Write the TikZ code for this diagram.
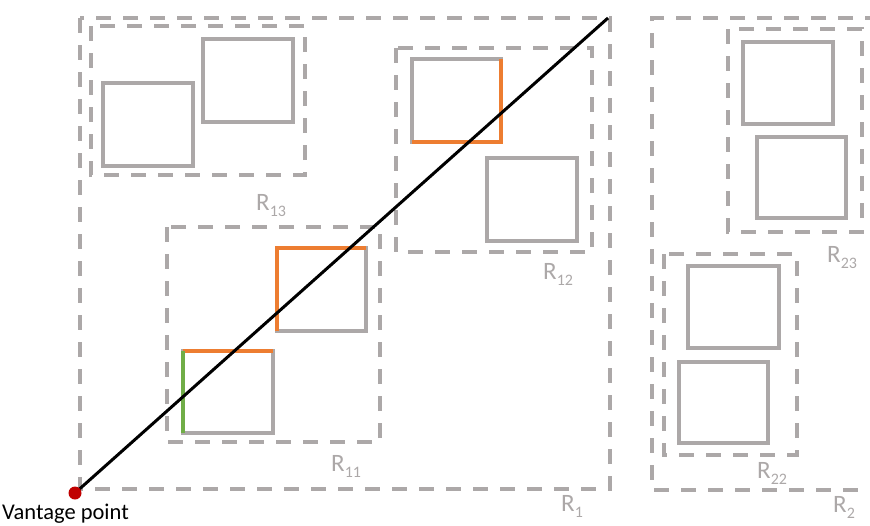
\documentclass[tikz,border=0pt]{standalone}
\usepackage{fontspec}
\setmainfont{Carlito}
\usetikzlibrary{positioning}
\definecolor{boxgray}{RGB}{172,168,168}
\definecolor{hitorange}{RGB}{237,125,49}
\definecolor{hitgreen}{RGB}{112,173,71}
\definecolor{vpred}{RGB}{192,0,0}
\newcommand{\regname}[1]{R\raisebox{-6pt}{\fontsize{16}{18}\selectfont #1}}

\begin{document}
\begin{tikzpicture}[x=1pt, y=-1pt,
    region/.style={draw=boxgray, line width=3.5pt, dash pattern=on 15pt off 12pt},
    obj/.style={draw=boxgray, line width=4pt},
    hit/.style={draw=hitorange, line width=4pt},
    first/.style={draw=hitgreen, line width=4pt},
    ray/.style={draw=black, line width=3pt},
    lbl/.style={text=boxgray, font=\fontsize{25}{28}\selectfont, inner sep=0pt, anchor=base west},
    dot/.style={circle, fill=vpred, minimum size=13pt, inner sep=0pt}]
    \useasboundingbox (0,0) rectangle (870,525);
    % regions
    \draw[region] (80,18) rectangle (610,489);
    \draw[region] (880,18) -- (652,18) -- (652,490) -- (880,490);
    \draw[region] (91,26) rectangle (305,175);
    \draw[region] (396,48) rectangle (592,252);
    \draw[region] (167,227) rectangle (380,442);
    \draw[region] (728,29) rectangle (862,232);
    \draw[region] (664,254) rectangle (797,455);
    % objects
    \draw[obj] (103,83) rectangle (193,166);
    \draw[obj] (203,39) rectangle (293,122);
    \draw[obj] (412,59) rectangle (501,142);
    \draw[obj] (487,158) rectangle (577,241);
    \draw[obj] (277,248) rectangle (366,331);
    \draw[obj] (183,351) rectangle (273,433);
    \draw[obj] (743,42) rectangle (833,124);
    \draw[obj] (757,137) rectangle (846,218);
    \draw[obj] (688,266) rectangle (779,348);
    \draw[obj] (679,362) rectangle (768,443);
    % faces hit by the ray
    \draw[hit] (412,142) -- (501,142) -- (501,59);
    \draw[hit] (277,331) -- (277,248) -- (366,248);
    \draw[hit] (183,351) -- (273,351);
    \draw[first] (183,351) -- (183,433);
    % ray
    \coordinate (vp) at (75,493);
    \coordinate (far) at (608,18);
    \draw[ray] (vp) -- (far);
    \node[dot] (vpdot) at (vp) {};
    \node[font=\fontsize{22.5}{25}\selectfont, inner sep=0pt, anchor=base west] (vplbl) at (2,519.5) {Vantage point};
    % labels
    \node[lbl] (lR1) at (561,511) {\regname{1}};
    \node[lbl] (lR11) at (331,471) {\regname{11}};
    \node[lbl] (lR12) at (543,279) {\regname{12}};
    \node[lbl] (lR13) at (256,210) {\regname{13}};
    \node[lbl] (lR2) at (833,512) {\regname{2}};
    \node[lbl] (lR22) at (757,478) {\regname{22}};
    \node[lbl] (lR23) at (827,262) {\regname{23}};
\end{tikzpicture}
\end{document}
